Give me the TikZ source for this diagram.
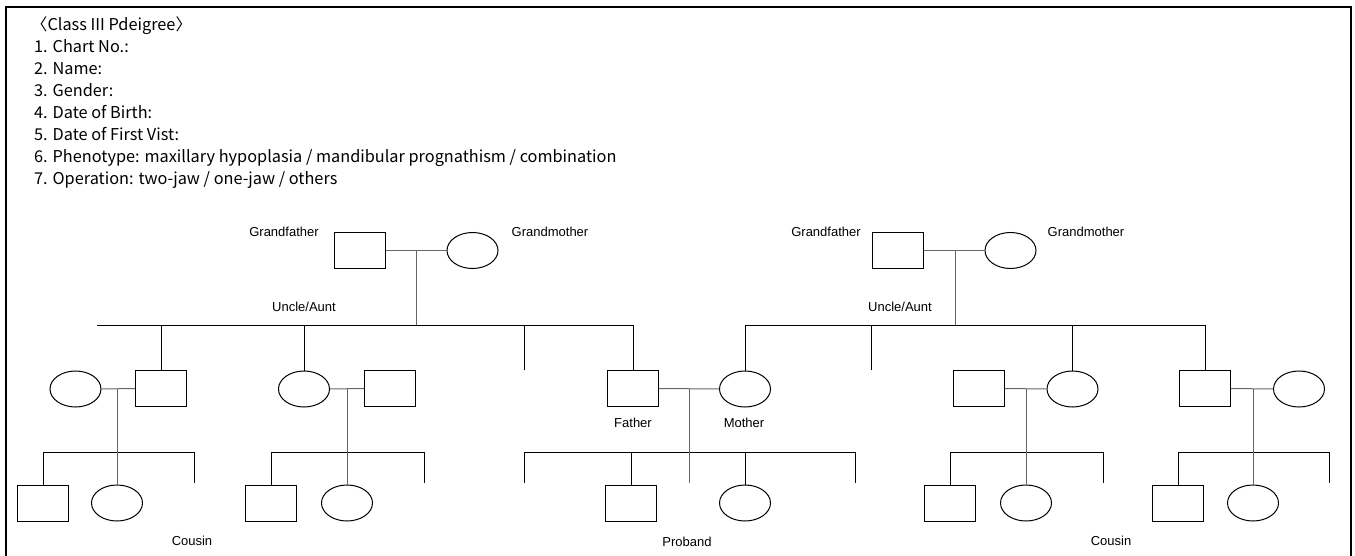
\documentclass[tikz,border=0pt]{standalone}
\usepackage{fontspec}
\setmainfont{Liberation Sans}
\newfontfamily\hdrfont{Noto Sans CJK KR}
\usetikzlibrary{shapes.geometric}
\begin{document}
\begin{tikzpicture}[x=1pt,y=-1pt,
  male/.style={draw, line width=1pt, rectangle, minimum width=51pt, minimum height=36pt, inner sep=0pt},
  female/.style={draw, line width=1pt, ellipse, minimum width=51pt, minimum height=36pt, inner sep=0pt},
  lbl/.style={font=\fontsize{13}{15}\selectfont, inner sep=0pt},
  hdr/.style={anchor=base west, inner sep=0pt, font=\hdrfont\fontsize{16.3}{20}\selectfont},
  link/.style={line width=1pt, draw=black!60},
  sib/.style={line width=1pt, draw=black}
]
\useasboundingbox (0,0) rectangle (1355,556);
\draw[line width=1.2pt] (6,556) -- (6,7) -- (1351,7) -- (1351,556);

\node[hdr] (h0) at (31,31) {〈Class III Pdeigree〉};
\node[hdr] (h1) at (34,53) {1. Chart No.:};
\node[hdr] (h2) at (34,75) {2. Name:};
\node[hdr] (h3) at (34,97) {3. Gender:};
\node[hdr] (h4) at (34,119) {4. Date of Birth:};
\node[hdr] (h5) at (34,141) {5. Date of First Vist:};
\node[hdr] (h6) at (34,163) {6. Phenotype: maxillary hypoplasia / mandibular prognathism / combination};
\node[hdr] (h7) at (34,185) {7. Operation: two-jaw / one-jaw / others};

% ---------- left grandparents
\node[male] (gf1) at (360,250.5) {};
\node[female] (gm1) at (472.5,250.5) {};
\node[lbl] (tgf1) at (284,232) {Grandfather};
\node[lbl] (tgm1) at (550,232) {Grandmother};
\node[lbl] (tua1) at (304,307) {Uncle/Aunt};
\coordinate (j1) at (416,250.5);
\coordinate (s1) at (416,325);
\coordinate (s1l) at (97,325);
\coordinate (u1free) at (524,370);
\draw[link] (gf1.east) -- (gm1.west);
\draw[link] (j1) -- (s1);

% ---------- right grandparents
\node[male] (gf2) at (898,250.5) {};
\node[female] (gm2) at (1010.5,250.5) {};
\node[lbl] (tgf2) at (826,232) {Grandfather};
\node[lbl] (tgm2) at (1086,232) {Grandmother};
\node[lbl] (tua2) at (900,307) {Uncle/Aunt};
\coordinate (j2) at (955,250.5);
\coordinate (s2) at (955,325);
\coordinate (u2free) at (871,370);
\draw[link] (gf2.east) -- (gm2.west);
\draw[link] (j2) -- (s2);

% ---------- generation II
\node[female] (l1w) at (75.5,389) {};
\node[male] (l1u) at (161,388.5) {};
\node[female] (l2u) at (304,389) {};
\node[male] (l2w) at (390,388.5) {};
\node[male] (fa) at (633,388.5) {};
\node[female] (mo) at (745,389) {};
\node[male] (r1w) at (978.5,388.5) {};
\node[female] (r1d) at (1072.5,389) {};
\node[male] (r2s) at (1205,388.5) {};
\node[female] (r2w) at (1299,389) {};
\node[lbl] (tfa) at (633,423) {Father};
\node[lbl] (tmo) at (744,423) {Mother};

% sibships of generation II
\draw[sib] (s1l) -- (fa.north |- s1) -- (fa.north);
\draw[sib] (l1u.north) -- (l1u.north |- s1);
\draw[sib] (l2u.north) -- (l2u.north |- s1);
\draw[sib] (u1free) -- (u1free |- s1);
\draw[sib] (mo.north) |- (r2s.north |- s2) -- (r2s.north);
\draw[sib] (u2free) -- (u2free |- s2);
\draw[sib] (r1d.north) -- (r1d.north |- s2);

% marriages of generation II
\draw[link] (l1w.east) -- (l1u.west);
\draw[link] (l2u.east) -- (l2w.west);
\draw[link] (fa.east) -- (mo.west);
\draw[link] (r1w.east) -- (r1d.west);
\draw[link] (r2s.east) -- (r2w.west);

% ---------- generation III
% family 1 (left)
\coordinate (m1) at (117,389);
\coordinate (k1) at (117,452);
\coordinate (e1) at (194,483);
\node[male] (c1a) at (43,503) {};
\node[female] (c1b) at (117,503) {};
\draw[sib] (c1a.north) |- (e1 |- k1) -- (e1);
\draw[link] (m1) -- (c1b.north);

% family 2
\coordinate (m2) at (347,389);
\coordinate (k2) at (347,452);
\coordinate (e2) at (424,483);
\node[male] (c2a) at (271,503) {};
\node[female] (c2b) at (347,503) {};
\draw[sib] (c2a.north) |- (e2 |- k2) -- (e2);
\draw[link] (m2) -- (c2b.north);

% family 3 (proband)
\coordinate (m3) at (689,389);
\coordinate (k3) at (689,452);
\coordinate (d3) at (689,483);
\coordinate (e3l) at (524,483);
\coordinate (e3r) at (855,483);
\node[male] (c3a) at (631,503) {};
\node[female] (c3b) at (745,503) {};
\draw[sib] (e3l) |- (e3r |- k3) -- (e3r);
\draw[link] (m3) -- (d3);
\draw[sib] (c3a.north) -- (c3a.north |- k3);
\draw[sib] (c3b.north) -- (c3b.north |- k3);

% family 4
\coordinate (m4) at (1026,389);
\coordinate (k4) at (1026,452);
\coordinate (e4) at (1103,483);
\node[male] (c4a) at (950,503) {};
\node[female] (c4b) at (1026,503) {};
\draw[sib] (c4a.north) |- (e4 |- k4) -- (e4);
\draw[link] (m4) -- (c4b.north);

% family 5
\coordinate (m5) at (1253,389);
\coordinate (k5) at (1253,452);
\coordinate (e5) at (1329,483);
\node[male] (c5a) at (1178,503) {};
\node[female] (c5b) at (1253,503) {};
\draw[sib] (c5a.north) |- (e5 |- k5) -- (e5);
\draw[link] (m5) -- (c5b.north);

\node[lbl] (tc1) at (192,541) {Cousin};
\node[lbl] (tpb) at (687,542) {Proband};
\node[lbl] (tc2) at (1111,541) {Cousin};
\end{tikzpicture}
\end{document}
